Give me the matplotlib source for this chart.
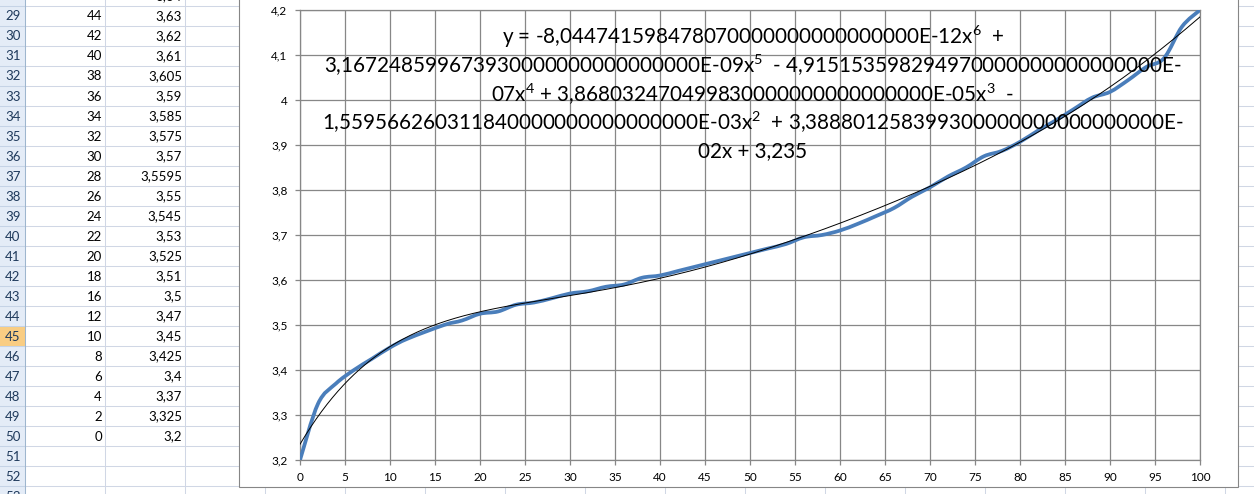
import numpy as np
import matplotlib
matplotlib.use('Agg')
import matplotlib.pyplot as plt
from matplotlib.path import Path
from matplotlib.patches import PathPatch, Rectangle

plt.rcParams['font.family'] = ['Lato', 'DejaVu Sans']
plt.rcParams['mathtext.default'] = 'regular'

# ---------------- data ----------------
x_vals = [0, 2, 4, 6, 8, 10, 12, 16, 18, 20, 22, 24, 26, 28, 30, 32, 34, 36, 38, 40,
          42, 44, 46, 48, 50, 52, 54, 56, 58, 60, 62, 64, 66, 68, 70, 72, 74, 76, 78,
          80, 82, 84, 86, 88, 90, 92, 94, 96, 98, 100]
y_vals = [3.2, 3.325, 3.37, 3.4, 3.425, 3.45, 3.47, 3.5, 3.51, 3.525, 3.53, 3.545, 3.55,
          3.5595, 3.57, 3.575, 3.585, 3.59, 3.605, 3.61, 3.62, 3.63, 3.64, 3.65, 3.66,
          3.67, 3.68, 3.695, 3.70, 3.71, 3.725, 3.742, 3.76, 3.785, 3.806, 3.83, 3.85,
          3.875, 3.887, 3.907, 3.932, 3.955, 3.98, 4.005, 4.018, 4.044, 4.073, 4.093,
          4.163, 4.2]

# polynomial trendline coefficients (degree 6 .. 0), as shown in the chart label
trend_coefs = [-8.04474159847807e-12, 3.16724859967393e-09, -4.91515359829497e-07,
               3.86803247049983e-05, -1.55956626031184e-03, 3.38880125839930e-02, 3.235]

x_ticks = list(range(0, 101, 5))
x_tick_labels = [str(v) for v in x_ticks]
y_ticks = [3.2, 3.3, 3.4, 3.5, 3.6, 3.7, 3.8, 3.9, 4.0, 4.1, 4.2]
y_tick_labels = ['3,2', '3,3', '3,4', '3,5', '3,6', '3,7', '3,8', '3,9', '4', '4,1', '4,2']

# spreadsheet cells visible on the left
row_numbers = list(range(28, 54))
col_a = ['46', '44', '42', '40', '38', '36', '34', '32', '30', '28', '26', '24', '22', '20',
         '18', '16', '12', '10', '8', '6', '4', '2', '0', '', '', '']
col_b = ['3,64', '3,63', '3,62', '3,61', '3,605', '3,59', '3,585', '3,575', '3,57', '3,5595',
         '3,55', '3,545', '3,53', '3,525', '3,51', '3,5', '3,47', '3,45', '3,425', '3,4',
         '3,37', '3,325', '3,2', '', '', '']
active_row = 45

eq_lines = [
    "y = -8,044741598478070000000000000000E-12x$^{6}$  +",
    "3,167248599673930000000000000000E-09x$^{5}$  - 4,915153598294970000000000000000E-",
    "07x$^{4}$ + 3,868032470499830000000000000000E-05x$^{3}$  -",
    "1,559566260311840000000000000000E-03x$^{2}$  + 3,388801258399300000000000000000E-",
    "02x + 3,235",
]

# ---------------- figure ----------------
W, H = 1254, 494
fig = plt.figure(figsize=(W / 100, H / 100), dpi=100)
fig.patch.set_facecolor('white')

bg = fig.add_axes([0, 0, 1, 1])
bg.set_xlim(0, W)
bg.set_ylim(H, 0)
bg.axis('off')

row_h = 20
row_top0 = -14  # top of row 28
hdr_w = 25
col_w = 80

# row header background
bg.add_patch(Rectangle((0, -20), hdr_w, H + 40, facecolor='#E4ECF7', edgecolor='none', zorder=1))
ai = row_numbers.index(active_row)
bg.add_patch(Rectangle((0, row_top0 + ai * row_h), hdr_w, row_h,
                       facecolor='#F9CD83', edgecolor='none', zorder=1.5))

# gridlines
for k in range(len(row_numbers) + 1):
    yy = row_top0 + k * row_h
    bg.plot([hdr_w, W], [yy, yy], color='#D0D7E5', lw=0.75, zorder=2)
    bg.plot([0, hdr_w], [yy, yy], color='#C5D3E6', lw=0.75, zorder=2)
for k in range(1, 17):
    xx = hdr_w + k * col_w
    bg.plot([xx, xx], [0, H], color='#D0D7E5', lw=0.75, zorder=2)
bg.plot([hdr_w, hdr_w], [0, H], color='#9EB6CE', lw=0.75, zorder=2.5)

# cell texts
for i, rn in enumerate(row_numbers):
    yc = row_top0 + i * row_h + row_h / 2 + 0.5
    bg.text(hdr_w / 2 + 0.5, yc, str(rn), ha='center', va='center', fontsize=9.5,
            color='#1F3A5C', zorder=3)
    if col_a[i]:
        bg.text(hdr_w + col_w - 3, yc, col_a[i], ha='right', va='center', fontsize=9.5,
                color='black', zorder=3)
    if col_b[i]:
        bg.text(hdr_w + 2 * col_w - 3, yc, col_b[i], ha='right', va='center', fontsize=9.5,
                color='black', zorder=3)

# chart object box
bg.add_patch(Rectangle((239, -10), 999, 497, facecolor='white', edgecolor='#868686',
                       lw=0.8, zorder=5))

# ---------------- plot area ----------------
ax = fig.add_axes([300 / W, (H - 460) / H, 900 / W, 450 / H])
ax.set_facecolor('none')
ax.set_xlim(0, 100)
ax.set_ylim(3.2, 4.2)
ax.set_xticks(x_ticks)
ax.set_xticklabels(x_tick_labels)
ax.set_yticks(y_ticks)
ax.set_yticklabels(y_tick_labels)
grid_c = '#878787'
ax.grid(True, color=grid_c, lw=0.9, zorder=0)
ax.set_axisbelow(True)
for s in ax.spines.values():
    s.set_color(grid_c)
    s.set_linewidth(0.9)
ax.tick_params(axis='both', direction='out', length=3.5, width=0.9, color=grid_c,
               labelsize=8.5, labelcolor='black')
ax.tick_params(axis='y', pad=5.5)
ax.tick_params(axis='x', pad=5)


def smooth_path(xs, ys):
    pts = np.column_stack([xs, ys]).astype(float)
    n = len(pts)
    verts = [pts[0]]
    codes = [Path.MOVETO]
    for i in range(n - 1):
        p0 = pts[i - 1] if i > 0 else pts[i]
        p1 = pts[i]
        p2 = pts[i + 1]
        p3 = pts[i + 2] if i + 2 < n else pts[i + 1]
        verts += [p1 + (p2 - p0) / 6.0, p2 - (p3 - p1) / 6.0, p2]
        codes += [Path.CURVE4] * 3
    return Path(verts, codes)


ax.add_patch(PathPatch(smooth_path(x_vals, y_vals), fill=False, edgecolor='#4A7EBB',
                       lw=2.7, capstyle='round', joinstyle='round', zorder=3))

xt = np.linspace(0, 100, 500)
ax.plot(xt, np.polyval(trend_coefs, xt), color='black', lw=0.7, zorder=4)

# ---------------- equation label ----------------
ov = fig.add_axes([0, 0, 1, 1])
ov.set_xlim(0, W)
ov.set_ylim(H, 0)
ov.axis('off')
ov.patch.set_alpha(0)
eq_y = [37, 65, 94, 122, 151]
eq_texts = [ov.text(753, yy, txt, ha='center', va='center', fontsize=14.5, color='black')
            for txt, yy in zip(eq_lines, eq_y)]

# fit the label size so the widest line spans ~860 px, as in the reference
renderer = fig.canvas.get_renderer()
wmax = max(t.get_window_extent(renderer).width for t in eq_texts)
fs = 14.5 * 860.0 / wmax
for t in eq_texts:
    t.set_fontsize(fs)

fig.savefig('out.png', dpi=100)
